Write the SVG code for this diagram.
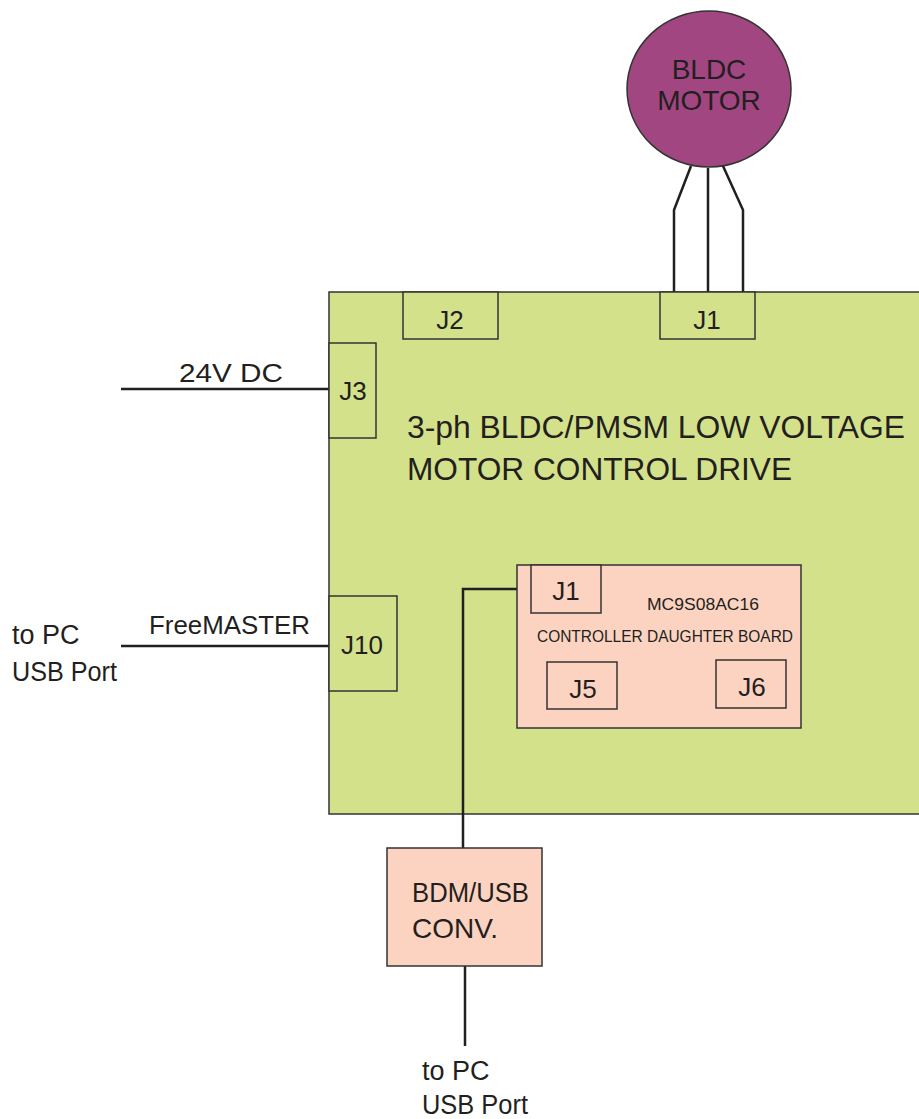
<svg xmlns="http://www.w3.org/2000/svg" width="919" height="1119" viewBox="0 0 919 1119">
<style>
text{font-family:"Liberation Sans",Arial,sans-serif;fill:#231f20}
.box{stroke:#333;stroke-width:1.5}
.g{fill:#d4e18b}
.p{fill:#fcd3c1}
.w{fill:none;stroke:#231f20;stroke-width:2.5}
.j{font-size:26px}
</style>
<rect width="919" height="1119" fill="#fff"/>
<g id="board">
<rect class="box g" x="329" y="292" width="600" height="522"/>
<text x="407" y="438" font-size="31" textLength="498" lengthAdjust="spacingAndGlyphs">3-ph BLDC/PMSM LOW VOLTAGE</text>
<text x="407" y="480" font-size="31" textLength="385" lengthAdjust="spacingAndGlyphs">MOTOR CONTROL DRIVE</text>
</g>
<g id="motor">
<ellipse cx="709" cy="89" rx="82" ry="78" fill="#a24682" stroke="#333" stroke-width="1.5"/>
<text x="709" y="79" font-size="28" text-anchor="middle">BLDC</text>
<text x="709" y="110" font-size="28" text-anchor="middle">MOTOR</text>
</g>
<g id="connectors">
<polyline class="w" points="691,166 674,210 674,292"/>
<line class="w" x1="708" y1="168" x2="708" y2="292"/>
<polyline class="w" points="723,166 743,210 743,292"/>
<line class="w" x1="121" y1="389" x2="329" y2="389"/>
<line class="w" x1="121" y1="646" x2="329" y2="646"/>
<polyline class="w" points="531,589 463,589 463,848"/>
<line class="w" x1="465" y1="966" x2="465" y2="1046"/>
</g>
<g id="J1">
<rect class="box g" x="660" y="292" width="95" height="47"/>
<text class="j" x="707" y="329" text-anchor="middle">J1</text>
</g>
<g id="J2">
<rect class="box g" x="403" y="292" width="95" height="47"/>
<text class="j" x="450" y="329" text-anchor="middle">J2</text>
</g>
<g id="J3">
<rect class="box g" x="329" y="343" width="47" height="95"/>
<text class="j" x="353" y="400" text-anchor="middle">J3</text>
</g>
<g id="J10">
<rect class="box g" x="329" y="596" width="68" height="95"/>
<text class="j" x="362" y="654" text-anchor="middle">J10</text>
</g>
<g id="daughter">
<rect class="box p" x="517" y="565" width="284" height="163"/>
<text x="647" y="610" font-size="17" textLength="112" lengthAdjust="spacingAndGlyphs">MC9S08AC16</text>
<text x="537" y="642" font-size="17" textLength="256" lengthAdjust="spacingAndGlyphs">CONTROLLER DAUGHTER BOARD</text>
</g>
<g id="dJ1">
<rect class="box p" x="531" y="565" width="70" height="48"/>
<text class="j" x="566" y="600" text-anchor="middle">J1</text>
</g>
<g id="J5">
<rect class="box p" x="547" y="662" width="70" height="47"/>
<text class="j" x="583" y="698" text-anchor="middle">J5</text>
</g>
<g id="J6">
<rect class="box p" x="716" y="660" width="70" height="48"/>
<text class="j" x="752" y="696" text-anchor="middle">J6</text>
</g>
<g id="bdm">
<rect class="box p" x="387" y="848" width="155" height="118"/>
<text x="412" y="902" font-size="28" textLength="117" lengthAdjust="spacingAndGlyphs">BDM/USB</text>
<text x="412" y="938" font-size="28">CONV.</text>
</g>
<g id="labels">
<text x="179" y="382" font-size="25" textLength="104" lengthAdjust="spacingAndGlyphs">24V DC</text>
<text x="149" y="634" font-size="25" textLength="161" lengthAdjust="spacingAndGlyphs">FreeMASTER</text>
<text x="12" y="644" font-size="27">to PC</text>
<text x="12" y="681" font-size="27" textLength="105" lengthAdjust="spacingAndGlyphs">USB Port</text>
<text x="422" y="1080" font-size="27">to PC</text>
<text x="422" y="1114" font-size="27" textLength="106" lengthAdjust="spacingAndGlyphs">USB Port</text>
</g>
</svg>
